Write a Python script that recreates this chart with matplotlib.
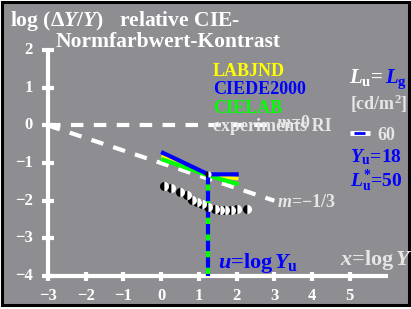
import numpy as np
import matplotlib.pyplot as plt
from matplotlib.patches import Rectangle

# --- data ---
x_ticks = [-3, -2, -1, 0, 1, 2, 3, 4, 5]
y_ticks = [-4, -3, -2, -1, 0, 1, 2]

# model curves: log Y vs log(dY/Y)
labjnd_x = [0.05, 1.25, 2.0]
labjnd_y = [-0.84, -1.31, -1.41]
ciede_x = [0.05, 1.25, 2.0]
ciede_y = [-0.73, -1.30, -1.30]
cielab_x = [0.05, 1.25, 2.0]
cielab_y = [-0.91, -1.33, -1.55]

# experiments RI
exp_x = [0.08, 0.26, 0.50, 0.68, 0.81, 0.94, 1.08, 1.25, 1.43, 1.56, 1.69, 1.85, 2.02, 2.27]
exp_y = [-1.60, -1.66, -1.77, -1.86, -1.99, -2.03, -2.08, -2.17, -2.21, -2.25, -2.25, -2.25, -2.23, -2.21]

# reference lines
m0_x = [-3, 3]
m0_y = [0, 0]
m13_x = [-3, 3]
m13_y = [0, -2]

u_adapt = 1.25          # log Yu, Yu = 18
u_level = -1.30

GRAY = '#8e8e92'
BLUE = '#0000ff'
LIGHT = '#e6e6e6'

plt.rcParams['font.family'] = ['Liberation Serif', 'DejaVu Serif']
plt.rcParams['font.weight'] = 'bold'
plt.rcParams['mathtext.fontset'] = 'custom'
plt.rcParams['mathtext.rm'] = 'Liberation Serif:bold'
plt.rcParams['mathtext.bf'] = 'Liberation Serif:bold'
plt.rcParams['mathtext.it'] = 'Liberation Serif:italic:bold'

fig = plt.figure(figsize=(4.11, 3.09), dpi=100, facecolor='white')
ax = fig.add_axes([0, 0, 1, 1])
ax.set_xlim(-4.27, 6.62)
ax.set_ylim(-4.875, 3.33)
ax.axis('off')

ax.add_patch(Rectangle((0.004, 0.013), 0.99, 0.982, transform=ax.transAxes,
                       facecolor=GRAY, edgecolor='black', linewidth=2.2, zorder=0))

# axes
ax.plot([-3, -3], [-4, 2], color='white', lw=3, solid_capstyle='butt')
ax.plot([-3, 6.0], [-4, -4], color='white', lw=3, solid_capstyle='butt')
for t in y_ticks:
    ax.plot([-3.15, -2.85], [t, t], color='white', lw=3, solid_capstyle='butt')
    ax.text(-3.40, t, '\u2212%d' % -t if t < 0 else str(t), color='white',
            fontsize=12, ha='right', va='center')
for t in x_ticks:
    ax.plot([t, t], [-4.12, -3.88], color='white', lw=3, solid_capstyle='butt')
    ax.text(t, -4.54, '\u2212%d' % -t if t < 0 else str(t), color='white',
            fontsize=12, ha='center', va='center')

# dashed reference lines
ax.plot(m0_x, m0_y, color='white', lw=3, dashes=(3, 2.5))
ax.plot(m13_x, m13_y, color='white', lw=3, dashes=(3, 2.5))

# model curves
ax.plot(labjnd_x, labjnd_y, color='yellow', lw=2.5, zorder=3)
ax.plot(cielab_x, cielab_y, color='#00ff00', lw=3, zorder=4)
ax.plot(ciede_x, ciede_y, color=BLUE, lw=3, zorder=5)

# vertical adaptation line
ax.plot([u_adapt, u_adapt], [u_level, -4], color='#00ff00', lw=3,
        solid_capstyle='butt', zorder=4)
ax.plot([u_adapt, u_adapt], [u_level, -4], color=BLUE, lw=3,
        dashes=(2.5, 1.5), zorder=5)
ax.plot([u_adapt], [u_level], marker='o', ms=4.5, fillstyle='left',
        markerfacecolor='black', markerfacecoloralt='white',
        markeredgewidth=0, zorder=6)

# experiments
ax.plot(exp_x, exp_y, ls='none', marker='o', ms=6.5, fillstyle='left',
        markerfacecolor='black', markerfacecoloralt='white',
        markeredgewidth=0, zorder=6)

# texts
ax.text(-4.0, 2.64, 'log (\u0394$\\mathit{Y/Y}$)   relative CIE-',
        color='white', fontsize=15.5)
ax.text(-2.81, 2.08, 'Normfarbwert-Kontrast', color='white', fontsize=15.5)

ax.text(1.37, 1.31, 'LABJND', color='yellow', fontsize=13)
ax.text(1.37, 0.83, 'CIEDE2000', color=BLUE, fontsize=13)
ax.text(1.37, 0.33, 'CIELAB', color='#00ff00', fontsize=13)
ax.text(1.37, -0.145, 'experiments RI', color=LIGHT, fontsize=13)
ax.text(3.05, -0.08, '$\\mathit{m}$=0', color=LIGHT, fontsize=13)
ax.text(3.07, -2.16, '$\\mathit{m}$=\u22121/3', color=LIGHT, fontsize=13)

ax.text(4.98, 1.13, '$\\mathit{L}_{\\mathrm{u}}$=', color='white', fontsize=15)
ax.text(5.93, 1.13, '$\\mathit{L}_{\\mathrm{g}}$', color=BLUE, fontsize=15)
ax.text(5.0, 0.41, '[cd/m$^{\\mathrm{2}}$]', color=LIGHT, fontsize=13)
ax.plot([5.0, 5.53], [-0.2, -0.2], color='white', lw=3.5, solid_capstyle='butt')
ax.plot([5.12, 5.41], [-0.2, -0.2], color=BLUE, lw=2, solid_capstyle='butt')
ax.text(5.72, -0.38, '60', color=LIGHT, fontsize=13)
ax.text(5.0, -0.97, '$\\mathit{Y}_{\\mathrm{u}}$=18', color=BLUE, fontsize=14)
ax.text(5.0, -1.63, '$\\mathit{L}^{*}_{\\mathrm{u}}$=50', color=BLUE, fontsize=14)

ax.text(1.50, -3.78, '$\\mathit{u}$=log$\\,\\mathit{Y}_{\\mathrm{u}}$',
        color=BLUE, fontsize=16)
ax.text(4.74, -3.70, '$\\mathit{x}$=log$\\,\\mathit{Y}$',
        color=LIGHT, fontsize=16)

fig.savefig('out.png', dpi=100, facecolor='white')
